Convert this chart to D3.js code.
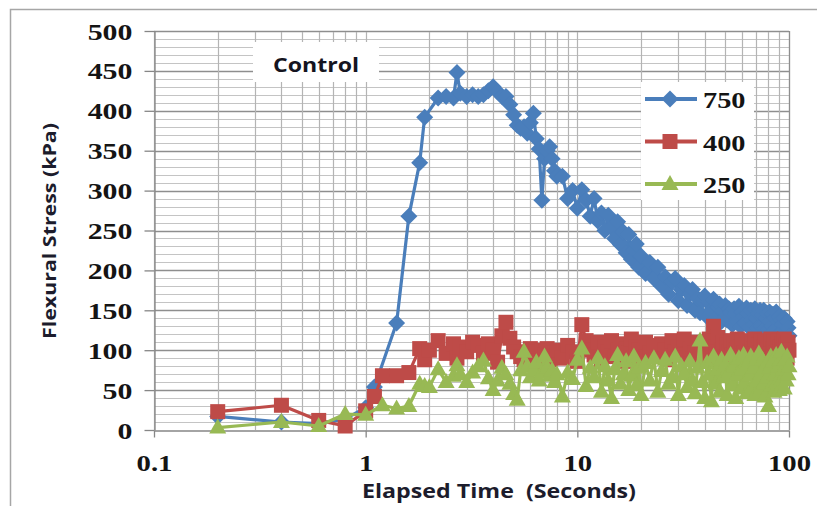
<!DOCTYPE html>
<html>
<head>
<meta charset="utf-8">
<script src="https://cdn.jsdelivr.net/npm/d3@7"></script>
<style>
  body { margin: 0; background: #fff; }
  #chart svg { display: block; }
</style>
</head>
<body>
<div id="chart"></div>
<script>
// elapsed time (s), shared by all series
var times = [
  0.2, 0.4, 0.6, 0.8, 1.0, 1.1, 1.2, 1.4, 1.6, 1.8,
  1.9, 2.0, 2.2, 2.4, 2.6, 2.7, 2.8, 3.0, 3.2, 3.4,
  3.6, 3.8, 4.0, 4.2, 4.4, 4.6, 4.8, 5.0, 5.2, 5.4,
  5.6, 5.8, 6.0, 6.2, 6.4, 6.6, 6.8, 7.0, 7.2, 7.4,
  7.6, 7.8, 8.0, 8.5, 9, 9.5, 10, 10.5, 11, 11.5,
  12, 12.5, 13, 13.5, 14, 14.5, 15, 15.5, 16, 16.5,
  17, 17.5, 18, 18.5, 19, 19.5, 20, 21, 22, 23,
  24, 25, 26, 27, 28, 29, 30, 31, 32, 33,
  34, 35, 36, 37, 38, 39, 40, 41, 42, 43,
  44, 45, 46, 47, 48, 49, 50, 51, 52, 53,
  54, 55, 56, 57, 58, 59, 60, 61, 62, 63,
  64, 65, 66, 67, 68, 69, 70, 71, 72, 73,
  74, 75, 76, 77, 78, 79, 80, 81, 82, 83,
  84, 85, 86, 87, 88, 89, 90, 91, 92, 93,
  94, 95, 96, 97, 98, 99, 100
];

// flexural stress (kPa), null = no reading at that time
var s750 = [
  17, 10, 8, 14, 28, 54, null, 134, 268, 335,
  392, null, 416, 418, 416, 448, 422, 418, 420, 418,
  420, 425, 430, 424, 418, 418, 408, 395, 382, 378,
  380, 372, 385, 397, 365, 352, 288, 340, 350, 355,
  340, 325, 318, 318, 290, 300, 278, 301, 288, 268,
  290, 262, 272, 250, 269, 253, 240, 261, 232, 248,
  222, 245, 214, 226, 233, 204, 218, 196, 210, 190,
  204, 180, 192, 170, 185, 190, 162, 176, 181, 156,
  170, 176, 150, 165, 147, 162, 168, 142, 160, 150,
  164, 140, 154, 158, 136, 150, 156, 138, 152, 147,
  132, 152, 146, 136, 155, 130, 148, 142, 134, 153,
  145, 128, 150, 138, 132, 152, 140, 127, 146, 150,
  130, 144, 150, 128, 140, 146, 126, 148, 136, 130,
  145, 124, 140, 148, 128, 136, 142, 122, 138, 132,
  124, 140, 130, 120, 136, 128, 118
];
var s400 = [
  23, 31, 12, 5, 24, 42, 68, 68, 72, 102,
  88, 100, 112, 96, 108, 90, 104, 98, 110, 106,
  96, 108, 100, 85, 118, 135, 115, 104, 98, 92,
  88, 96, 102, 90, 98, 86, 100, 94, 102, 88,
  96, 92, 100, 90, 106, 98, 86, 132, 112, 100,
  94, 110, 88, 104, 98, 112, 92, 100, 108, 86,
  102, 96, 114, 90, 104, 100, 88, 110, 96, 106,
  92, 108, 100, 88, 112, 98, 104, 94, 114, 90,
  102, 108, 96, 110, 88, 100, 106, 92, 114, 98,
  130, 104, 116, 92, 100, 110, 88, 106, 98, 112,
  94, 108, 100, 114, 90, 104, 112, 96, 88, 106,
  110, 98, 92, 108, 102, 114, 88, 100, 106, 96,
  112, 94, 104, 110, 90, 100, 108, 96, 114, 92,
  102, 110, 96, 88, 106, 112, 98, 104, 90, 108,
  100, 114, 94, 106, 90, 110, 100
];
var s250 = [
  3, 10, 5, 20, 19, null, 31, 27, 30, 58,
  55, 54, 76, 60, 68, 81, 70, 60, 72, 80,
  87, 65, 50, 62, 78, 70, 58, 45, 38, 75,
  98, 80, 66, 75, 85, 62, 72, 92, 78, 68,
  75, 60, 70, 42, 72, 64, 88, 102, 55, 78,
  66, 90, 48, 80, 62, 40, 76, 94, 58, 70,
  86, 50, 68, 92, 56, 78, 44, 84, 62, 90,
  48, 74, 88, 58, 66, 92, 44, 80, 70, 54,
  86, 62, 46, 78, 112, 60, 40, 84, 70, 36,
  92, 58, 76, 48, 88, 66, 82, 44, 72, 94,
  56, 80, 40, 70, 90, 52, 76, 94, 60, 46,
  84, 68, 92, 54, 78, 44, 88, 62, 96, 50,
  72, 88, 58, 42, 82, 66, 30, 78, 92, 56,
  86, 48, 70, 94, 60, 80, 50, 88, 98, 64,
  76, 52, 88, 62, 92, 70, 80
];

var seriesNames = ["750", "400", "250"];
var seriesColors = ["#4a7ebb", "#be4b48", "#98b954"];
var yTicks = [0, 50, 100, 150, 200, 250, 300, 350, 400, 450, 500];
var xTicks = [0.1, 1, 10, 100];

var width = 817, height = 506;
// plot area edges (named so they don't clash with window.top etc.)
var pLeft = 154, pRight = 789, pTop = 31, pBottom = 430;

var svg = d3.select("#chart").append("svg")
  .attr("width", width)
  .attr("height", height);

// outer chart frame (only top and left edges are visible)
svg.append("path")
  .attr("d", "M10.5," + height + "V9.5H" + width)
  .attr("fill", "none")
  .attr("stroke", "#a6a6a6")
  .attr("stroke-width", 1.5);

var x = d3.scaleLog().domain([0.1, 100]).range([pLeft, pRight]);
var y = d3.scaleLinear().domain([0, 500]).range([pBottom, pTop]);

// gridlines
var grid = svg.append("g");
grid.selectAll(".hgrid")
  .data(d3.range(10, 501, 10))
  .enter().append("line")
  .attr("x1", pLeft).attr("x2", pRight)
  .attr("y1", function (d) { return Math.round(y(d)) + 0.5; })
  .attr("y2", function (d) { return Math.round(y(d)) + 0.5; })
  .attr("stroke", function (d) { return d % 50 == 0 ? "#8e8e8e" : "#c4c4c4"; })
  .attr("stroke-width", function (d) { return d % 50 == 0 ? 1.3 : 1; });
grid.selectAll(".vgrid")
  .data(x.ticks())
  .enter().append("line")
  .attr("x1", function (d) { return Math.round(x(d)) + 0.5; })
  .attr("x2", function (d) { return Math.round(x(d)) + 0.5; })
  .attr("y1", pTop).attr("y2", pBottom)
  .attr("stroke", "#b4b4b4")
  .attr("stroke-width", 1.2);

// plot border right/top
svg.append("path")
  .attr("d", "M" + pLeft + "," + (pTop + 0.5) + "H" + (pRight + 0.5) + "V" + pBottom)
  .attr("fill", "none")
  .attr("stroke", "#8e8e8e")
  .attr("stroke-width", 1.2);

// y axis
var yAxis = svg.append("g")
  .attr("transform", "translate(" + (pLeft + 0.5) + ",0)")
  .call(d3.axisLeft(y).tickValues(yTicks).tickSize(10).tickSizeOuter(0));
yAxis.selectAll("line, path").attr("stroke", "#868686").attr("stroke-width", 1.3);
yAxis.selectAll("text")
  .attr("x", -22 / 1.3)
  .attr("dy", "0.35em")
  .attr("transform", "scale(1.3,1)")
  .attr("font-family", "'Liberation Serif', 'DejaVu Serif', serif")
  .attr("font-weight", "bold")
  .attr("font-size", "23px")
  .attr("fill", "#141414");

// x axis
var xAxis = svg.append("g")
  .attr("transform", "translate(0," + (pBottom + 0.5) + ")")
  .call(d3.axisBottom(x).tickValues(xTicks).tickSize(7).tickSizeOuter(0)
    .tickFormat(function (d) { return String(d); }));
xAxis.selectAll("line, path").attr("stroke", "#868686").attr("stroke-width", 1.3);
xAxis.selectAll("text")
  .attr("y", 41)
  .attr("dy", 0)
  .attr("x", 0)
  .attr("transform", "scale(1.25,1)")
  .attr("font-family", "'Liberation Serif', 'DejaVu Serif', serif")
  .attr("font-weight", "bold")
  .attr("font-size", "23px")
  .attr("fill", "#141414");

// axis titles
svg.append("text")
  .attr("x", 499).attr("y", 498)
  .attr("text-anchor", "middle")
  .style("white-space", "pre")
  .attr("font-family", "'Open Sans', 'Noto Sans', sans-serif")
  .attr("font-weight", "bold")
  .attr("font-size", "19px")
  .attr("textLength", 274)
  .attr("lengthAdjust", "spacingAndGlyphs")
  .attr("fill", "#1c1c2c")
  .text("Elapsed Time  (Seconds)");

svg.append("text")
  .attr("transform", "translate(56,231) rotate(-90)")
  .attr("text-anchor", "middle")
  .attr("font-family", "'Open Sans', 'Noto Sans', sans-serif")
  .attr("font-weight", "bold")
  .attr("font-size", "18px")
  .attr("textLength", 216)
  .attr("lengthAdjust", "spacingAndGlyphs")
  .attr("fill", "#1c1c2c")
  .text("Flexural Stress (kPa)");

// "Control" label
svg.append("rect")
  .attr("x", 253).attr("y", 42).attr("width", 126).attr("height", 40)
  .attr("fill", "#fff");
svg.append("text")
  .attr("x", 316).attr("y", 72)
  .attr("text-anchor", "middle")
  .attr("font-family", "'Open Sans', 'Noto Sans', sans-serif")
  .attr("font-weight", "bold")
  .attr("font-size", "20px")
  .attr("textLength", 86)
  .attr("lengthAdjust", "spacingAndGlyphs")
  .attr("fill", "#141420")
  .text("Control");

// marker shapes
var markers = [
  "M0,-8.5L8.5,0L0,8.5L-8.5,0Z",
  "M-7.5,-7.5H7.5V7.5H-7.5Z",
  "M0,-9L8.5,6L-8.5,6Z"
];

var line = d3.line()
  .x(function (d) { return x(d.t); })
  .y(function (d) { return y(d.v); });

[s750, s400, s250].forEach(function (vals, k) {
  var pts = times.map(function (t, i) { return { t: t, v: vals[i] }; })
    .filter(function (d) { return d.v != null; });
  var g = svg.append("g");
  g.append("path")
    .datum(pts)
    .attr("d", line)
    .attr("fill", "none")
    .attr("stroke", seriesColors[k])
    .attr("stroke-width", 3.2)
    .attr("stroke-linejoin", "round");
  g.selectAll("path.mk")
    .data(pts)
    .enter().append("path")
    .attr("class", "mk")
    .attr("d", markers[k])
    .attr("transform", function (d) { return "translate(" + x(d.t) + "," + y(d.v) + ")"; })
    .attr("fill", seriesColors[k]);
});

// legend
var legend = svg.append("g");
legend.append("rect")
  .attr("x", 641).attr("y", 82).attr("width", 113).attr("height", 118)
  .attr("fill", "#fff");
seriesNames.forEach(function (name, k) {
  var cy = 99 + k * 42.5;
  legend.append("line")
    .attr("x1", 645).attr("x2", 697)
    .attr("y1", cy).attr("y2", cy)
    .attr("stroke", seriesColors[k])
    .attr("stroke-width", 4);
  legend.append("path")
    .attr("d", markers[k])
    .attr("transform", "translate(670," + cy + ")")
    .attr("fill", seriesColors[k]);
  legend.append("text")
    .attr("transform", "translate(703," + (cy + 9) + ") scale(1.18,1)")
    .attr("font-family", "'Liberation Serif', 'DejaVu Serif', serif")
    .attr("font-weight", "bold")
    .attr("font-size", "24px")
    .attr("fill", "#141414")
    .text(name);
});
</script>
</body>
</html>
